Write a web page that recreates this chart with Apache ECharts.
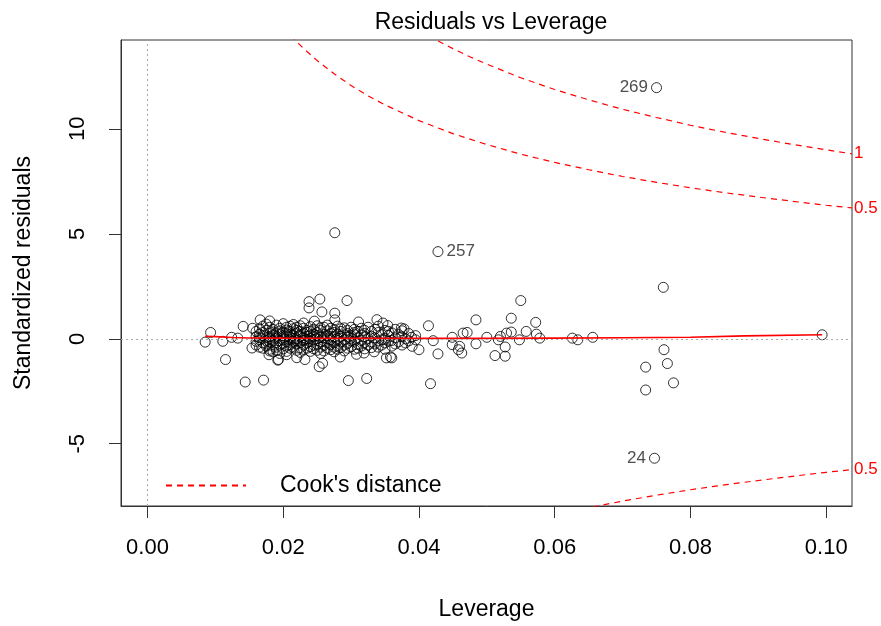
<!DOCTYPE html>
<html><head><meta charset="utf-8">
<script src="https://cdn.jsdelivr.net/npm/echarts@6/dist/echarts.min.js"></script>
<style>html,body{margin:0;padding:0;background:#fff}#c{width:881px;height:626px}</style>
</head><body><div id="c"></div><script>
// ---- data ----
const xTicks = [0, 0.02, 0.04, 0.06, 0.08, 0.10];
const yTicks = [-5, 0, 5, 10];

const labeledPoints = [
  {id: '269', h: 0.0750, r: 11.96, pos: 'left'},
  {id: '257', h: 0.0428, r: 4.15, pos: 'right'},
  {id: '24',  h: 0.0747, r: -5.69, pos: 'left'}
];

const sparsePoints = [
  [0.0085,-0.16],[0.0093,0.30],[0.0111,-0.12],[0.0115,-0.99],[0.0124,0.07],[0.0144,-2.06],
  [0.0171,-1.97],[0.0141,0.59],[0.0133,0.03],[0.0155,0.50],[0.0166,0.90],[0.0180,0.85],
  [0.0154,-0.44],[0.0180,-0.58],[0.0179,-0.76],[0.0192,-1.02],[0.0205,-0.76],[0.0220,-0.90],
  [0.0238,1.77],[0.0238,1.47],[0.0254,1.89],[0.0294,1.82],[0.0257,1.28],[0.0276,1.22],
  [0.0276,0.90],[0.0246,0.84],[0.0311,0.80],[0.0338,0.91],[0.0354,0.63],[0.0374,0.51],
  [0.0193,-0.99],[0.0232,-0.99],[0.0253,-1.33],[0.0258,-1.17],[0.0296,-1.99],[0.0323,-1.89],
  [0.0284,-0.87],[0.0308,-0.74],[0.0319,-0.68],[0.0334,-0.62],[0.0352,-0.91],[0.0360,-0.91],
  [0.0276,5.05],[0.0347,0.75],
  [0.0414,0.62],[0.0421,-0.09],[0.0428,-0.72],[0.0417,-2.14],[0.0400,-0.52],[0.0390,-0.36],
  [0.0378,0.47],[0.0358,-0.87],[0.0389,0.07],[0.0449,0.07],[0.0449,-0.28],[0.0460,-0.36],
  [0.0463,-0.68],[0.0458,-0.52],[0.0465,0.27],[0.0471,0.30],[0.0484,0.90],[0.0484,-0.24],
  [0.0500,0.07],[0.0512,-0.80],[0.0527,-0.83],[0.0527,-0.39],[0.0517,-0.05],[0.0520,0.11],
  [0.0529,0.27],[0.0536,0.32],[0.0536,0.98],[0.0550,1.82],[0.0548,-0.05],[0.0558,0.35],
  [0.0572,0.78],[0.0573,0.22],[0.0578,0.03],[0.0626,0.03],[0.0634,-0.05],[0.0656,0.07],
  [0.0760,2.45],[0.0761,-0.52],[0.0766,-1.18],[0.0734,-1.35],[0.0775,-2.10],[0.0734,-2.44],
  [0.0994,0.19]
];

const clusterLeverage = [
  0.0160,0.0165,0.0170,0.0175,0.0180,0.0185,0.0190,0.0195,0.0200,0.0205,0.0210,0.0215,
  0.0220,0.0225,0.0230,0.0235,0.0240,0.0245,0.0250,0.0255,0.0260,0.0265,0.0270,0.0275,
  0.0280,0.0285,0.0290,0.0295,0.0300,0.0305,0.0310,0.0315,0.0320,0.0325,0.0330,0.0335,
  0.0340,0.0345,0.0350,0.0355,0.0360,0.0365,0.0370,0.0375,0.0380,0.0385,0.0395
];
const clusterResiduals = [
  [0.35,-0.12,0.10,-0.30],
  [0.22,-0.05,0.48,-0.40,0.05],
  [0.60,0.15,-0.20,-0.45,0.30],
  [0.40,-0.10,0.05,-0.35,0.70,-0.25],
  [0.25,-0.15,0.55,-0.50,0.10,0.00],
  [0.45,0.18,-0.28,-0.62,0.32,-0.08],
  [0.65,0.12,-0.18,-0.40,0.28,0.02,-0.55],
  [0.50,0.20,-0.10,-0.30,0.38,-0.70],
  [0.72,0.30,0.05,-0.22,-0.48,0.15,-0.05],
  [0.42,0.10,-0.15,-0.35,0.55,-0.60,0.25],
  [0.60,0.22,-0.05,-0.28,0.35,-0.45,0.08],
  [0.48,0.15,-0.12,-0.40,0.68,-0.20,0.02],
  [0.55,0.28,0.00,-0.25,-0.55,0.40,-0.10],
  [0.35,0.10,-0.18,-0.42,0.62,-0.65,0.20],
  [0.50,0.25,-0.08,-0.30,0.05,-0.50,0.75],
  [0.40,0.12,-0.20,-0.45,0.30,-0.02],
  [0.58,0.18,-0.12,-0.38,0.02,-0.60,0.35],
  [0.45,0.22,-0.05,-0.30,0.10,-0.48],
  [0.62,0.30,0.00,-0.25,-0.55,0.15],
  [0.40,0.08,-0.15,-0.40,0.52,-0.70],
  [0.55,0.20,-0.10,-0.32,0.05,-0.58],
  [0.38,0.15,-0.20,-0.45,0.65,0.00],
  [0.50,0.25,-0.05,-0.28,-0.52,0.12],
  [0.42,0.10,-0.18,-0.40,0.30,-0.62],
  [0.60,0.22,-0.08,-0.35,0.02,-0.50],
  [0.35,0.12,-0.15,-0.42,0.48],
  [0.52,0.18,-0.05,-0.30,-0.58],
  [0.40,0.08,-0.22,-0.45,0.25],
  [0.55,0.15,-0.10,-0.38,0.02],
  [0.45,0.20,-0.12,-0.50,0.30],
  [0.35,0.05,-0.25,-0.45],
  [0.50,0.18,-0.08,-0.35],
  [0.40,0.10,-0.18,-0.48,0.25],
  [0.55,0.02,-0.30],
  [0.35,0.12,-0.15,-0.42],
  [0.45,0.05,-0.25],
  [0.30,-0.10,-0.40,0.60],
  [0.20,-0.05,-0.30],
  [0.40,0.02,-0.20,-0.50],
  [0.15,-0.12,0.35],
  [0.28,-0.08,-0.35],
  [0.05,-0.25,0.45],
  [0.20,-0.15],
  [0.10,-0.30,0.38],
  [0.00,-0.20],
  [0.25,-0.10],
  [0.15,-0.05]
];

const smoothLine = [
  [0.0085,0.12],[0.0100,0.10],[0.0125,0.06],[0.0150,0.04],[0.0200,0.03],[0.0300,0.02],
  [0.0400,0.02],[0.0500,0.02],[0.0600,0.03],[0.0700,0.05],[0.0800,0.07],[0.0880,0.14],[0.0994,0.19]
];

const cookHalfUpper = [
  [0.0200,14.85],[0.0217,14.24],[0.0230,13.83],[0.0250,13.25],[0.0275,12.62],[0.0300,12.06],
  [0.0325,11.57],[0.0350,11.14],[0.0400,10.39],[0.0450,9.77],[0.0500,9.25],[0.0550,8.79],
  [0.0600,8.40],[0.0650,8.05],[0.0700,7.73],[0.0750,7.45],[0.0800,7.19],[0.0850,6.96],
  [0.0900,6.75],[0.0950,6.55],[0.1000,6.36],[0.1038,6.23]
];
const cookOneUpper = [
  [0.0400,14.70],[0.0427,14.20],[0.0450,13.82],[0.0475,13.43],[0.0500,13.08],[0.0550,12.43],
  [0.0600,11.87],[0.0650,11.38],[0.0700,10.93],[0.0750,10.54],[0.0800,10.17],[0.0850,9.84],
  [0.0900,9.54],[0.0950,9.26],[0.1000,9.00],[0.1038,8.81]
];
const cookHalfLower = [
  [0.0640,-8.11],[0.0650,-8.05],[0.0700,-7.73],[0.0750,-7.45],[0.0800,-7.19],[0.0850,-6.96],
  [0.0900,-6.75],[0.0950,-6.55],[0.1000,-6.36],[0.1038,-6.23]
];

// ---- chart ----
const FONT = '"Liberation Sans", Arial, sans-serif';
const clusterPoints = [];
clusterLeverage.forEach((h, i) => clusterResiduals[i].forEach(r => clusterPoints.push([h, r])));
const allPoints = sparsePoints.concat(clusterPoints);

const cookStyle = {color: '#ff0000', type: [6, 5], width: 1.2};
function cookSeries(data, lbl) {
  return {
    name: "Cook's distance", type: 'line', data: data, symbol: 'none', clip: true,
    color: '#ff0000', lineStyle: cookStyle, itemStyle: {color: '#ff0000'}, z: 5, silent: true,
    endLabel: {show: true, formatter: lbl, color: '#ff0000', fontFamily: FONT, fontSize: 17, distance: 2}
  };
}

const chart = echarts.init(document.getElementById('c'));
chart.setOption({
  animation: false,
  backgroundColor: '#ffffff',
  title: {
    text: 'Residuals vs Leverage', left: 486, top: 6, textAlign: 'center',
    textStyle: {fontFamily: FONT, fontSize: 23, fontWeight: 'normal', color: '#000'}
  },
  grid: {left: 121, right: 29, top: 40, bottom: 117, show: true, borderColor: '#333', borderWidth: 1, backgroundColor: 'transparent'},
  legend: {
    data: ["Cook's distance"], left: 160, top: 469, itemWidth: 80, itemHeight: 14, selectedMode: false,
    itemStyle: {opacity: 0},
    textStyle: {fontFamily: FONT, fontSize: 23, color: '#000', padding: [0, 0, 0, 29]}
  },
  xAxis: {
    type: 'value', min: -0.0039, max: 0.1038,
    name: 'Leverage', nameLocation: 'middle', nameGap: 92,
    nameTextStyle: {fontFamily: FONT, fontSize: 23, color: '#000'},
    axisLine: {show: true, onZero: false, lineStyle: {color: '#333', width: 1}}, splitLine: {show: false},
    axisTick: {show: true, length: 12, customValues: xTicks, lineStyle: {color: '#333', width: 1}},
    axisLabel: {customValues: xTicks, formatter: v => v.toFixed(2), margin: 31, fontFamily: FONT, fontSize: 22, color: '#000'}
  },
  yAxis: {
    type: 'value', min: -7.965, max: 14.23,
    name: 'Standardized residuals', nameLocation: 'middle', nameGap: 86, nameRotate: 90,
    nameTextStyle: {fontFamily: FONT, fontSize: 23, color: '#000'},
    axisLine: {show: true, onZero: false, lineStyle: {color: '#333', width: 1}}, splitLine: {show: false},
    axisTick: {show: true, length: 12, customValues: yTicks, lineStyle: {color: '#333', width: 1}},
    axisLabel: {customValues: yTicks, formatter: v => String(v), rotate: 90, margin: 32, fontFamily: FONT, fontSize: 22, color: '#000'}
  },
  series: [
    {
      name: 'Residuals', type: 'scatter', data: allPoints, symbol: 'circle', symbolSize: 10,
      itemStyle: {color: 'rgba(0,0,0,0)', borderColor: '#000', borderWidth: 1}, z: 2, silent: true
    },
    {
      name: 'Labeled', type: 'scatter', symbol: 'circle', symbolSize: 10, z: 2, silent: true,
      itemStyle: {color: 'rgba(0,0,0,0)', borderColor: '#000', borderWidth: 1},
      data: labeledPoints.map(p => ({
        value: [p.h, p.r],
        label: {show: true, position: p.pos, distance: 3, formatter: p.id, fontFamily: FONT, fontSize: 17, color: '#222'}
      }))
    },
    {
      name: 'Smooth', type: 'line', data: smoothLine, symbol: 'none', silent: true, z: 3,
      lineStyle: {color: '#ff0000', width: 1.6},
      markLine: {
        silent: true, symbol: ['none', 'none'], label: {show: false},
        lineStyle: {color: '#aaaaaa', type: [2, 3], width: 1},
        data: [{xAxis: 0}, {yAxis: 0}]
      }
    },
    cookSeries(cookHalfUpper, '0.5'),
    cookSeries(cookOneUpper, '1'),
    cookSeries(cookHalfLower, '0.5')
  ]
});
</script></body></html>
